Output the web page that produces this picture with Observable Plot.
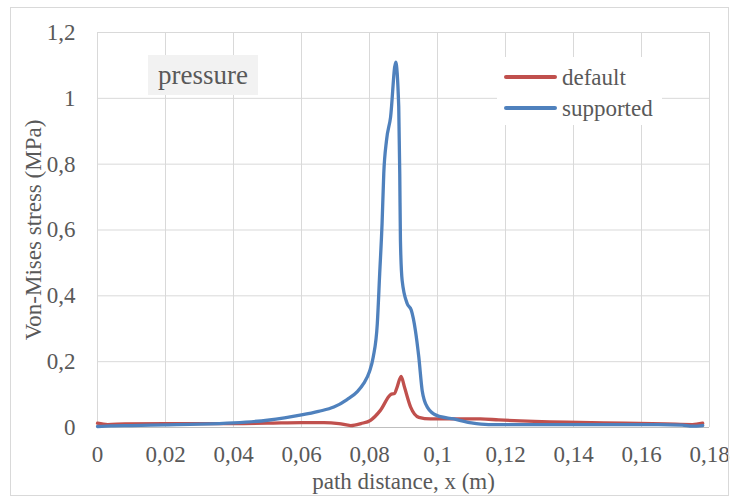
<!DOCTYPE html>
<html>
<head>
<meta charset="utf-8">
<script src="https://cdn.jsdelivr.net/npm/d3@7"></script>
<script src="https://cdn.jsdelivr.net/npm/@observablehq/plot@0.6"></script>
<style>
  html, body { margin: 0; padding: 0; background: #fff; }
  #wrap { position: relative; width: 736px; height: 498px; overflow: hidden;
          font-family: "Liberation Serif", "Times New Roman", serif; color: #595959; }
  #border { position: absolute; left: 10px; top: 7px; width: 717px; height: 487px;
            border: 1px solid #d9d9d9; pointer-events: none; }
  #tag { position: absolute; left: 148px; top: 55px; width: 110px; height: 40px;
         background: #f2f2f2; font-size: 27px; line-height: 40px; text-align: center; }
  #legend { position: absolute; left: 497px; top: 57px; width: 165px; height: 68px;
            background: #fff; padding-top: 4.5px; box-sizing: border-box; }
  .row { display: flex; align-items: center; height: 31px; font-size: 23px; line-height: 31px; }
  .sw { display: inline-block; width: 53px; height: 3.5px; border-radius: 2px; margin-left: 7px; margin-right: 5px; }
</style>
</head>
<body>
<div id="wrap"></div>
<script>
// ---- data ----
const seriesNames = ["default", "supported"];
const seriesColors = ["#C0504D", "#4F81BD"];

const xDefault = [0, 0.003, 0.008, 0.02, 0.04, 0.05, 0.06, 0.0666, 0.071, 0.0745, 0.0775, 0.0803, 0.0832, 0.0862, 0.0874, 0.0881, 0.0893, 0.0903, 0.0921, 0.0945, 0.0979, 0.1126, 0.118, 0.138, 0.155, 0.167, 0.175, 0.178];
const yDefault = [0.013, 0.009, 0.011, 0.012, 0.012, 0.013, 0.015, 0.015, 0.012, 0.006, 0.012, 0.022, 0.052, 0.100, 0.104, 0.122, 0.155, 0.122, 0.062, 0.031, 0.026, 0.026, 0.023, 0.016, 0.013, 0.011, 0.009, 0.013];

const xSupported = [0, 0.004, 0.01, 0.02, 0.03, 0.04, 0.05, 0.055, 0.06, 0.065, 0.0695, 0.0734, 0.0765, 0.0783, 0.08, 0.0811, 0.0823, 0.083, 0.0837, 0.0842, 0.085, 0.0862, 0.0877, 0.0886, 0.0889, 0.0891, 0.0896, 0.0911, 0.0923, 0.0935, 0.0945, 0.0955, 0.097, 0.0999, 0.1048, 0.11, 0.115, 0.13, 0.15, 0.165, 0.172, 0.175, 0.178];
const ySupported = [0.003, 0.005, 0.006, 0.008, 0.010, 0.014, 0.022, 0.029, 0.038, 0.049, 0.062, 0.085, 0.11, 0.134, 0.17, 0.214, 0.316, 0.468, 0.62, 0.772, 0.872, 0.943, 1.11, 0.974, 0.77, 0.568, 0.447, 0.376, 0.356, 0.295, 0.214, 0.112, 0.062, 0.036, 0.026, 0.014, 0.009, 0.009, 0.009, 0.009, 0.007, 0.004, 0.006];

const xTicks = [0, 0.02, 0.04, 0.06, 0.08, 0.1, 0.12, 0.14, 0.16, 0.18];
const xTickLabels = ["0", "0,02", "0,04", "0,06", "0,08", "0,1", "0,12", "0,14", "0,16", "0,18"];
const yTicks = [0, 0.2, 0.4, 0.6, 0.8, 1, 1.2];
const yTickLabels = ["0", "0,2", "0,4", "0,6", "0,8", "1", "1,2"];

const xTitle = "path distance, x (m)";
const yTitle = "Von-Mises stress (MPa)";
const tagText = "pressure";

// ---- build ----
const rows = [
  ...xDefault.map((x, i) => ({series: seriesNames[0], x, y: yDefault[i]})),
  ...xSupported.map((x, i) => ({series: seriesNames[1], x, y: ySupported[i]}))
];
const xMap = new Map(xTicks.map((t, i) => [t, xTickLabels[i]]));
const yMap = new Map(yTicks.map((t, i) => [t, yTickLabels[i]]));

const chart = Plot.plot({
  width: 736,
  height: 498,
  marginLeft: 97,
  marginRight: 27,
  marginTop: 32,
  marginBottom: 71,
  style: {fontFamily: "'Liberation Serif', 'Times New Roman', serif", fontSize: "23px", color: "#595959", background: "transparent", overflow: "visible"},
  x: {domain: [0, 0.18]},
  y: {domain: [0, 1.2]},
  color: {domain: seriesNames, range: seriesColors},
  marks: [
    Plot.gridX(xTicks, {stroke: "#d9d9d9", strokeOpacity: 1, strokeWidth: 1}),
    Plot.gridY(yTicks, {stroke: "#d9d9d9", strokeOpacity: 1, strokeWidth: 1}),
    Plot.ruleY([0], {stroke: "#bfbfbf", strokeWidth: 1}),
    Plot.axisX({ticks: xTicks, tickFormat: d => xMap.get(d), tickSize: 0, tickPadding: 18, label: null}),
    Plot.axisY({ticks: yTicks, tickFormat: d => yMap.get(d), tickSize: 0, tickPadding: 22, label: null}),
    Plot.line(rows, {x: "x", y: "y", z: "series", stroke: "series", strokeWidth: 3.3, curve: "monotone-x", strokeLinejoin: "round", strokeLinecap: "round"}),
    Plot.text([xTitle], {frameAnchor: "bottom", textAnchor: "middle", lineAnchor: "middle", dy: 54, text: d => d, fill: "#595959", fontSize: 23}),
    Plot.text([yTitle], {frameAnchor: "left", textAnchor: "middle", lineAnchor: "middle", dx: -64, rotate: -90, text: d => d, fill: "#595959", fontSize: 23})
  ]
});

const wrap = document.getElementById("wrap");
wrap.appendChild(chart);

const tag = document.createElement("div");
tag.id = "tag";
tag.textContent = tagText;
wrap.appendChild(tag);

const legend = document.createElement("div");
legend.id = "legend";
seriesNames.forEach((name, i) => {
  const row = document.createElement("div");
  row.className = "row";
  const sw = document.createElement("span");
  sw.className = "sw";
  sw.style.background = seriesColors[i];
  const label = document.createElement("span");
  label.textContent = name;
  row.appendChild(sw);
  row.appendChild(label);
  legend.appendChild(row);
});
wrap.appendChild(legend);

const border = document.createElement("div");
border.id = "border";
wrap.appendChild(border);
</script>
</body>
</html>
